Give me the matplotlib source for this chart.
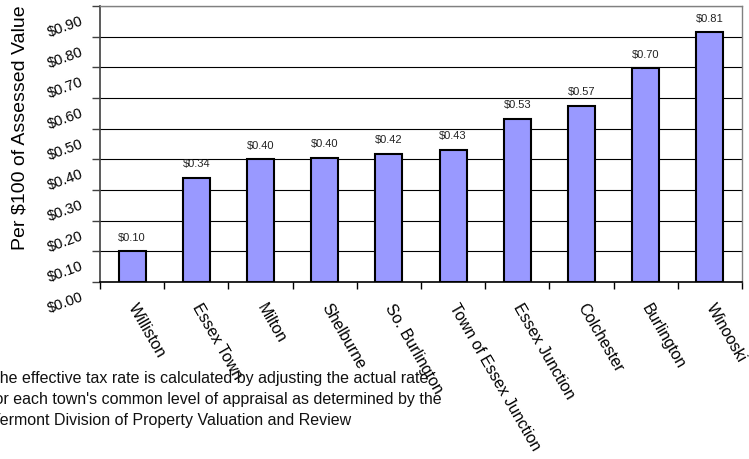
import matplotlib
matplotlib.use('Agg')
import matplotlib.pyplot as plt
import matplotlib.transforms as mtransforms
import numpy as np

plt.rcParams['font.family'] = ['Liberation Sans', 'DejaVu Sans']

towns = ['Williston', 'Essex Town', 'Milton', 'Shelburne', 'So. Burlington',
         'Town of Essex Junction', 'Essex Junction', 'Colchester',
         'Burlington', 'Winooski']
rates = [0.10, 0.34, 0.40, 0.404, 0.418, 0.431, 0.532, 0.575, 0.697, 0.814]
yticks = [0.0, 0.1, 0.2, 0.3, 0.4, 0.5, 0.6, 0.7, 0.8, 0.9]
note = ["The effective tax rate is calculated by adjusting the actual rate",
        "for each town's common level of appraisal as determined by the",
        "Vermont Division of Property Valuation and Review"]

W, H = 749, 460
fig = plt.figure(figsize=(W / 100, H / 100), dpi=100)
ax = fig.add_axes([100 / W, 1 - 283 / H, 642 / W, 276 / H])

x = np.arange(len(towns))
bars = ax.bar(x, rates, width=0.42, color='#9999FF', edgecolor='black',
              linewidth=1.5, zorder=3)
ax.bar_label(bars, labels=['$%.2f' % r for r in rates], padding=7,
             fontsize=8, color='#222222')

ax.set_xlim(-0.5, len(towns) - 0.5)
ax.set_ylim(0, 0.9)

# y axis: gridlines + rotated dollar labels
ax.set_yticks(yticks)
ax.set_yticklabels(['$%.2f' % v for v in yticks], rotation=20, fontsize=10.5,
                   ha='right', va='center')
ax.tick_params(axis='y', direction='out', length=6, width=1, color='#404040',
               pad=5)
shift = mtransforms.ScaledTranslation(0, -20 / 100, fig.dpi_scale_trans)
for lab in ax.get_yticklabels():
    lab.set_transform(lab.get_transform() + shift)
ax.yaxis.grid(True, color='black', linewidth=0.8, zorder=0)
ax.set_axisbelow(True)

# x axis: tick marks between categories, labels under bars
ax.set_xticks(np.arange(len(towns) + 1) - 0.5)
ax.set_xticklabels([])
ax.tick_params(axis='x', which='major', direction='out', length=5, width=1,
               color='black')
ax.set_xticks(x, minor=True)
ax.set_xticklabels(towns, minor=True, rotation=-60, ha='left', va='center',
                   rotation_mode='anchor', fontsize=11.5)
ax.tick_params(axis='x', which='minor', length=0, pad=16)

for s in ['top', 'right']:
    ax.spines[s].set_color('#808080')
    ax.spines[s].set_linewidth(1)
ax.spines['left'].set_color('#404040')
ax.spines['left'].set_linewidth(1.2)
ax.spines['bottom'].set_color('black')
ax.spines['bottom'].set_linewidth(1.2)

fig.text(20 / W, 1 - 128 / H, 'Per $100 of Assessed Value', rotation=90,
         ha='center', va='center', fontsize=14)

for i, line in enumerate(note):
    fig.text(-10 / W, 1 - (378 + 21.5 * i) / H, line, ha='left', va='center',
             fontsize=11.5, color='#111111')

fig.savefig('out.png', dpi=100)
